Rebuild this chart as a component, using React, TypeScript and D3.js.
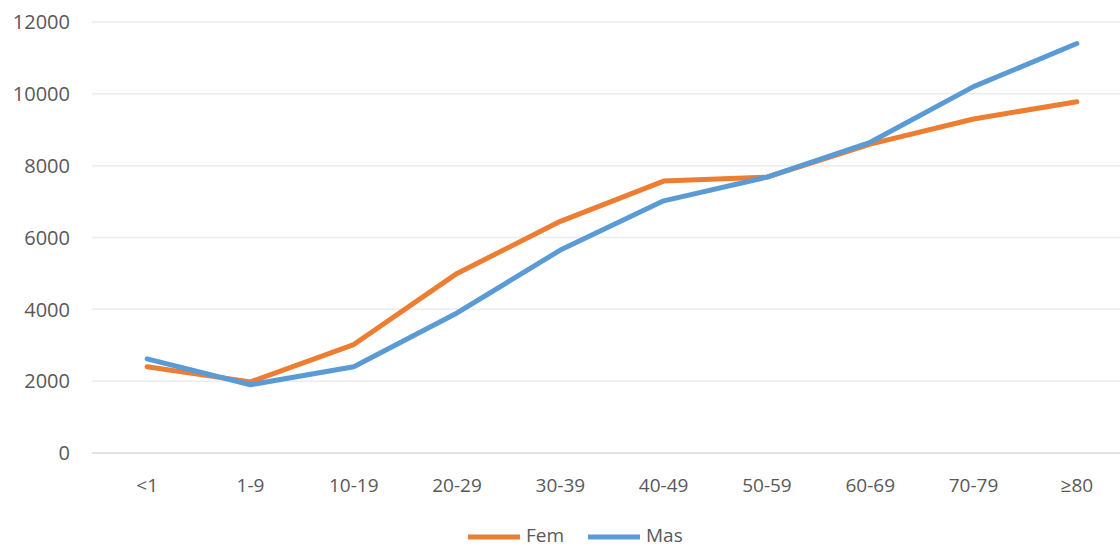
import React from "react";
import * as d3 from "d3";

const categories = ["<1","1-9","10-19","20-29","30-39","40-49","50-59","60-69","70-79","≥80"];
const fem = [2400,1980,3020,5000,6450,7570,7680,8600,9300,9780];
const mas = [2620,1900,2400,3900,5650,7020,7680,8650,10200,11400];
const yTicks = [0,2000,4000,6000,8000,10000,12000];

export default function App() {
  const W = 1120, H = 548;
  const x = d3.scaleBand().domain(categories).range([95.5, 1128.5]);
  const y = d3.scaleLinear().domain([0, 12000]).range([453, 22]);
  const cx = (c: string) => (x(c) as number) + x.bandwidth() / 2;
  const line = d3.line<number>().x((_, i) => cx(categories[i])).y(d => y(d));
  const font = "'Open Sans', sans-serif";
  return (
    <svg width={W} height={H} style={{ position: "absolute", left: 0, top: 0, background: "#fff" }}>
      {yTicks.map(t => (
        <g key={t}>
          <line x1={92} x2={1120} y1={y(t)} y2={y(t)} stroke={t === 0 ? "#d9d9d9" : "#ececec"} strokeWidth={1.5} />
          <text x={70} y={y(t)} dy="0.36em" textAnchor="end" fontSize={20} fill="#595959" fontFamily={font}>{t}</text>
        </g>
      ))}
      {categories.map(c => (
        <text key={c} x={cx(c)} y={492} textAnchor="middle" fontSize={19} fill="#595959" fontFamily={font}>{c}</text>
      ))}
      <path d={line(fem) as string} fill="none" stroke="#ED7D31" strokeWidth={5} strokeLinejoin="round" strokeLinecap="round" />
      <path d={line(mas) as string} fill="none" stroke="#5B9BD5" strokeWidth={5} strokeLinejoin="round" strokeLinecap="round" />
      <g fontFamily={font} fontSize={19} fill="#595959">
        <line x1={468} x2={520} y1={537} y2={537} stroke="#ED7D31" strokeWidth={5} />
        <text x={526} y={535} dy="0.35em">Fem</text>
        <line x1={588} x2={640} y1={537} y2={537} stroke="#5B9BD5" strokeWidth={5} />
        <text x={646} y={535} dy="0.35em">Mas</text>
      </g>
    </svg>
  );
}
